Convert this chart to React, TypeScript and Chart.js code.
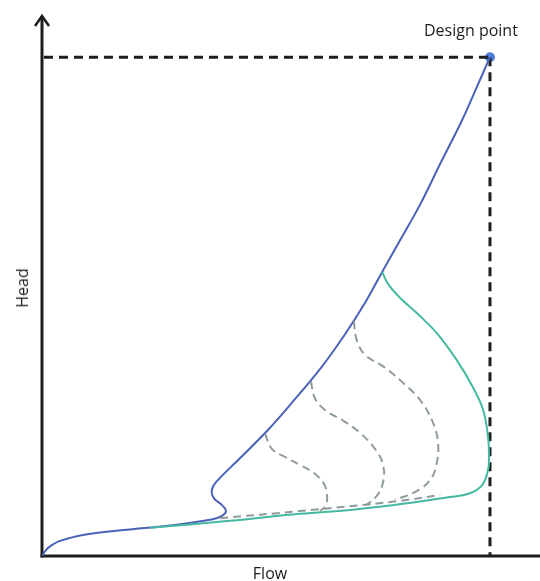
import React, { useEffect, useRef } from "react";
import { Chart, registerables } from "chart.js";

Chart.register(...registerables);

// Flow / Head values in arbitrary units (0–100)
const designFlow = [91.8];
const designHead = [92.2];

const pumpFlow = [0, 0.8, 2.0, 3.7, 8.4, 16.6, 26.8, 35.0, 36.9, 37.7, 36.9, 35.2, 34.8, 35.7, 40.6, 46.3, 50.8, 57.0, 62.1, 66.2, 69.7, 73.4, 77.5, 81.6, 86.1, 89.3, 91.8];
const pumpHead = [0, 1.1, 2.0, 2.8, 3.9, 4.8, 5.7, 6.8, 7.4, 8.3, 9.4, 10.7, 12.2, 13.7, 18.1, 23.3, 27.9, 34.6, 41.0, 46.8, 52.5, 58.4, 65.0, 72.5, 80.6, 87.1, 92.2];

const surgeFlow = [22.1, 38.5, 52.9, 63.1, 69.9, 76.8, 83.6, 87.7, 90.2, 91.4, 91.6, 91.4, 90.4, 88.3, 85.0, 80.9, 76.8, 73.4, 70.9, 69.7];
const surgeHead = [5.2, 6.5, 7.8, 8.5, 9.2, 10.0, 10.9, 11.6, 13.1, 15.9, 18.7, 22.0, 27.0, 31.2, 36.2, 41.2, 44.9, 47.7, 50.3, 52.5];

const baseFlow = [36.5, 52.9, 63.1, 73.4, 81.6];
const baseHead = [7.0, 8.3, 9.2, 10.2, 11.3];

const loop1Flow = [45.7, 47.1, 49.8, 52.9, 55.9, 57.8, 58.4, 58.2, 57.0];
const loop1Head = [22.6, 19.8, 18.3, 16.8, 15.2, 13.3, 11.3, 9.4, 8.3];

const loop2Flow = [55.1, 55.9, 58.0, 62.1, 65.6, 68.4, 69.9, 69.9, 68.6, 66.4];
const loop2Head = [32.3, 29.2, 27.0, 24.8, 22.4, 19.6, 16.8, 13.7, 11.1, 9.4];

const loop3Flow = [63.9, 64.5, 66.2, 70.3, 74.0, 77.5, 79.9, 81.1, 80.9, 79.5, 76.4, 72.3];
const loop3Head = [43.4, 39.9, 37.2, 34.8, 32.0, 28.8, 25.1, 21.4, 17.2, 14.0, 11.8, 10.4];

const guideHFlow = [0.4, 91.8];
const guideHHead = [92.2, 92.2];
const guideVFlow = [91.8, 91.8];
const guideVHead = [92.2, 0];

const labelDesign = "Design point";
const labelX = "Flow";
const labelY = "Head";

const pts = (xs: number[], ys: number[]) => xs.map((x, i) => ({ x, y: ys[i] }));

const BLUE = "#4a62b8";
const TEAL = "#45b9a0";
const GREY = "#8e9c9a";
const INK = "#1e1e1e";

const axesPlugin = {
  id: "axesArrows",
  beforeDatasetsDraw(chart: any) {
    const { ctx, chartArea } = chart;
    const l = chartArea.left;
    const b = chartArea.bottom;
    ctx.save();
    ctx.strokeStyle = INK;
    ctx.lineWidth = 3;
    ctx.lineCap = "butt";
    ctx.beginPath();
    ctx.moveTo(l, b + 1.5);
    ctx.lineTo(l, chartArea.top + 1);
    ctx.stroke();
    ctx.beginPath();
    ctx.moveTo(l - 1.5, b);
    ctx.lineTo(chart.width, b);
    ctx.stroke();
    ctx.lineWidth = 2.5;
    ctx.lineJoin = "miter";
    ctx.beginPath();
    ctx.moveTo(l - 7, chartArea.top + 11);
    ctx.lineTo(l, chartArea.top + 1);
    ctx.lineTo(l + 7, chartArea.top + 11);
    ctx.stroke();
    ctx.restore();
  },
};

export default function App() {
  const ref = useRef<HTMLCanvasElement | null>(null);

  useEffect(() => {
    document.body.style.margin = "0";
    const canvas = ref.current;
    if (!canvas) return;
    const line = (data: any, color: string, width: number, dash: number[] = [], tension = 0.4) => ({
      data,
      borderColor: color,
      backgroundColor: color,
      borderWidth: width,
      borderDash: dash,
      showLine: true,
      pointRadius: 0,
      pointHoverRadius: 0,
      tension,
      fill: false,
    });
    const chart = new Chart(canvas, {
      type: "scatter",
      data: {
        datasets: [
          line(pts(baseFlow, baseHead), GREY, 2, [8, 5]),
          line(pts(loop1Flow, loop1Head), GREY, 2, [8, 5]),
          line(pts(loop2Flow, loop2Head), GREY, 2, [8, 5]),
          line(pts(loop3Flow, loop3Head), GREY, 2, [8, 5]),
          line(pts(surgeFlow, surgeHead), TEAL, 2),
          line(pts(pumpFlow, pumpHead), BLUE, 2, [], 0.35),
          line(pts(guideHFlow, guideHHead), INK, 3, [9, 6], 0),
          line(pts(guideVFlow, guideVHead), INK, 3, [9, 6], 0),
          {
            data: pts(designFlow, designHead),
            showLine: false,
            pointRadius: 5,
            pointBackgroundColor: "#4d80d8",
            pointBorderColor: "#4d80d8",
            borderWidth: 0,
          },
        ],
      },
      options: {
        responsive: false,
        animation: false,
        devicePixelRatio: 1,
        layout: { padding: { left: 42, right: 10, top: 15, bottom: 25 } },
        plugins: { legend: { display: false }, tooltip: { enabled: false } },
        scales: {
          x: { type: "linear", min: 0, max: 100, display: false },
          y: { type: "linear", min: 0, max: 100, display: false },
        },
      },
      plugins: [axesPlugin],
    } as any);
    return () => chart.destroy();
  }, []);

  const font = "'Open Sans', 'Liberation Sans', sans-serif";
  const text = { fontFamily: font, fontSize: 16, color: "#1c1c1c", lineHeight: "20px", whiteSpace: "nowrap" as const };
  return (
    <div style={{ position: "absolute", left: 0, top: 0, width: 540, height: 581, background: "#fff" }}>
      <canvas ref={ref} width={540} height={581} style={{ display: "block" }} />
      <span style={{ ...text, position: "absolute", left: 424, top: 20 }}>{labelDesign}</span>
      <span style={{ ...text, position: "absolute", left: 270, top: 573, transform: "translate(-50%, -50%)" }}>
        {labelX}
      </span>
      <span
        style={{
          ...text,
          position: "absolute",
          left: 22,
          top: 288,
          transform: "translate(-50%, -50%) rotate(-90deg)",
        }}
      >
        {labelY}
      </span>
    </div>
  );
}
